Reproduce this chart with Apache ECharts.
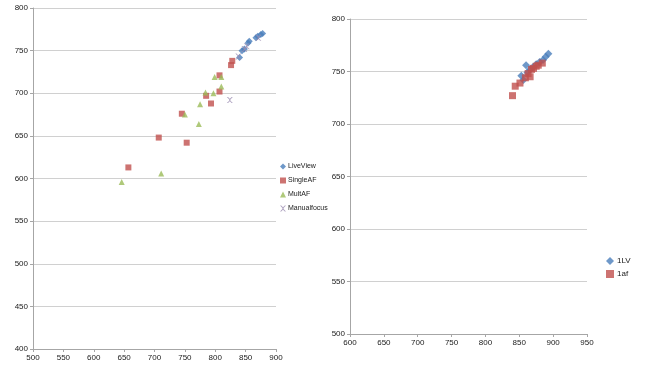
<!DOCTYPE html>
<html><head><meta charset="utf-8">
<script src="https://cdn.jsdelivr.net/npm/echarts@6/dist/echarts.min.js"></script>
<style>html,body{margin:0;padding:0;background:#fff}#c{width:650px;height:370px}</style>
</head><body><div id="c"></div>
<script>
// Left chart data
const liveViewX = [840, 844, 848, 854, 856, 867, 870, 875, 878];
const liveViewY = [742, 750, 752, 759, 761, 765, 767, 769, 770];
const singleAFX = [657, 707, 745, 753, 785, 793, 807, 807, 826, 828];
const singleAFY = [613, 648, 676, 642, 697, 688, 702, 721, 733, 738];
const multAFX = [646, 711, 750, 773, 775, 784, 797, 799, 810, 810];
const multAFY = [596, 606, 675, 664, 687, 701, 700, 719, 719, 708];
const manualX = [824, 838, 848, 852, 871];
const manualY = [692, 743, 752, 755, 765];
// Right chart data
const lvX = [853, 856, 860, 862, 866, 870, 875, 880, 885, 889, 893];
const lvY = [746, 742, 756, 749, 752, 754, 757, 759, 761, 764, 767];
const afX = [840, 844, 851, 859, 863, 866, 868, 871, 875, 878, 884];
const afY = [727, 736, 739, 744, 748, 745, 752, 753, 755, 756, 758];

const zip = (a, b) => a.map((v, i) => [v, b[i]]);
const CROSS = 'path://M0,0L2,0L5,3L8,0L10,0L6,4L6,6L10,10L8,10L5,7L2,10L0,10L4,6L4,4Z';
const font = 'Liberation Sans';
const axisLine = {lineStyle: {color: '#a6a6a6'}};
const grid = {lineStyle: {color: '#d0d0d0', width: 1}};
const lbl = {color: '#1a1a1a', fontSize: 8, fontFamily: font};

function xAxis(idx, min, max) {
  return {type: 'value', gridIndex: idx, min: min, max: max, interval: 50,
    axisLine: Object.assign({show: true}, axisLine), axisTick: {show: true, length: 3, lineStyle: {color: '#a6a6a6'}},
    splitLine: {show: false}, axisLabel: Object.assign({margin: 5}, lbl)};
}
function yAxis(idx, min, max) {
  return {type: 'value', gridIndex: idx, min: min, max: max, interval: 50,
    axisLine: Object.assign({show: true}, axisLine), axisTick: {show: true, length: 3, lineStyle: {color: '#a6a6a6'}},
    splitLine: grid, axisLabel: Object.assign({margin: 5}, lbl)};
}

const chart = echarts.init(document.getElementById('c'));
chart.setOption({
  animation: false,
  textStyle: {fontFamily: font},
  grid: [
    {left: 33, right: 374, top: 8, bottom: 21},
    {left: 350, right: 63, top: 19, bottom: 36}
  ],
  xAxis: [xAxis(0, 500, 900), xAxis(1, 600, 950)],
  yAxis: [yAxis(0, 400, 800), yAxis(1, 500, 800)],
  legend: [
    {left: 275, top: 158, orient: 'vertical', itemGap: 7, itemWidth: 6, itemHeight: 6,
      data: ['LiveView', 'SingleAF', 'MultAF', 'Manualfocus'],
      textStyle: {fontSize: 7, color: '#1a1a1a', fontFamily: font, padding: [0, 0, 0, -3]}},
    {left: 601, top: 252, orient: 'vertical', itemGap: 5, itemWidth: 8, itemHeight: 8,
      data: ['1LV', '1af'],
      textStyle: {fontSize: 8, color: '#1a1a1a', fontFamily: font, padding: [0, 0, 0, -2]}}
  ],
  series: [
    {name: 'LiveView', type: 'scatter', xAxisIndex: 0, yAxisIndex: 0, symbol: 'diamond', symbolSize: 7,
      itemStyle: {color: '#4a7ebb'}, data: zip(liveViewX, liveViewY)},
    {name: 'SingleAF', type: 'scatter', xAxisIndex: 0, yAxisIndex: 0, symbol: 'rect', symbolSize: 6,
      itemStyle: {color: '#c0504d'}, data: zip(singleAFX, singleAFY)},
    {name: 'MultAF', type: 'scatter', xAxisIndex: 0, yAxisIndex: 0, symbol: 'triangle', symbolSize: 6,
      itemStyle: {color: '#9bbb59'}, data: zip(multAFX, multAFY)},
    {name: 'Manualfocus', type: 'scatter', xAxisIndex: 0, yAxisIndex: 0, symbol: CROSS, symbolSize: 6,
      itemStyle: {color: '#9a8bb0'}, data: zip(manualX, manualY)},
    {name: '1LV', type: 'scatter', xAxisIndex: 1, yAxisIndex: 1, symbol: 'diamond', symbolSize: 8,
      itemStyle: {color: '#4a7ebb'}, data: zip(lvX, lvY)},
    {name: '1af', type: 'scatter', xAxisIndex: 1, yAxisIndex: 1, symbol: 'rect', symbolSize: 7,
      itemStyle: {color: '#c0504d'}, data: zip(afX, afY)}
  ]
});
</script></body></html>
